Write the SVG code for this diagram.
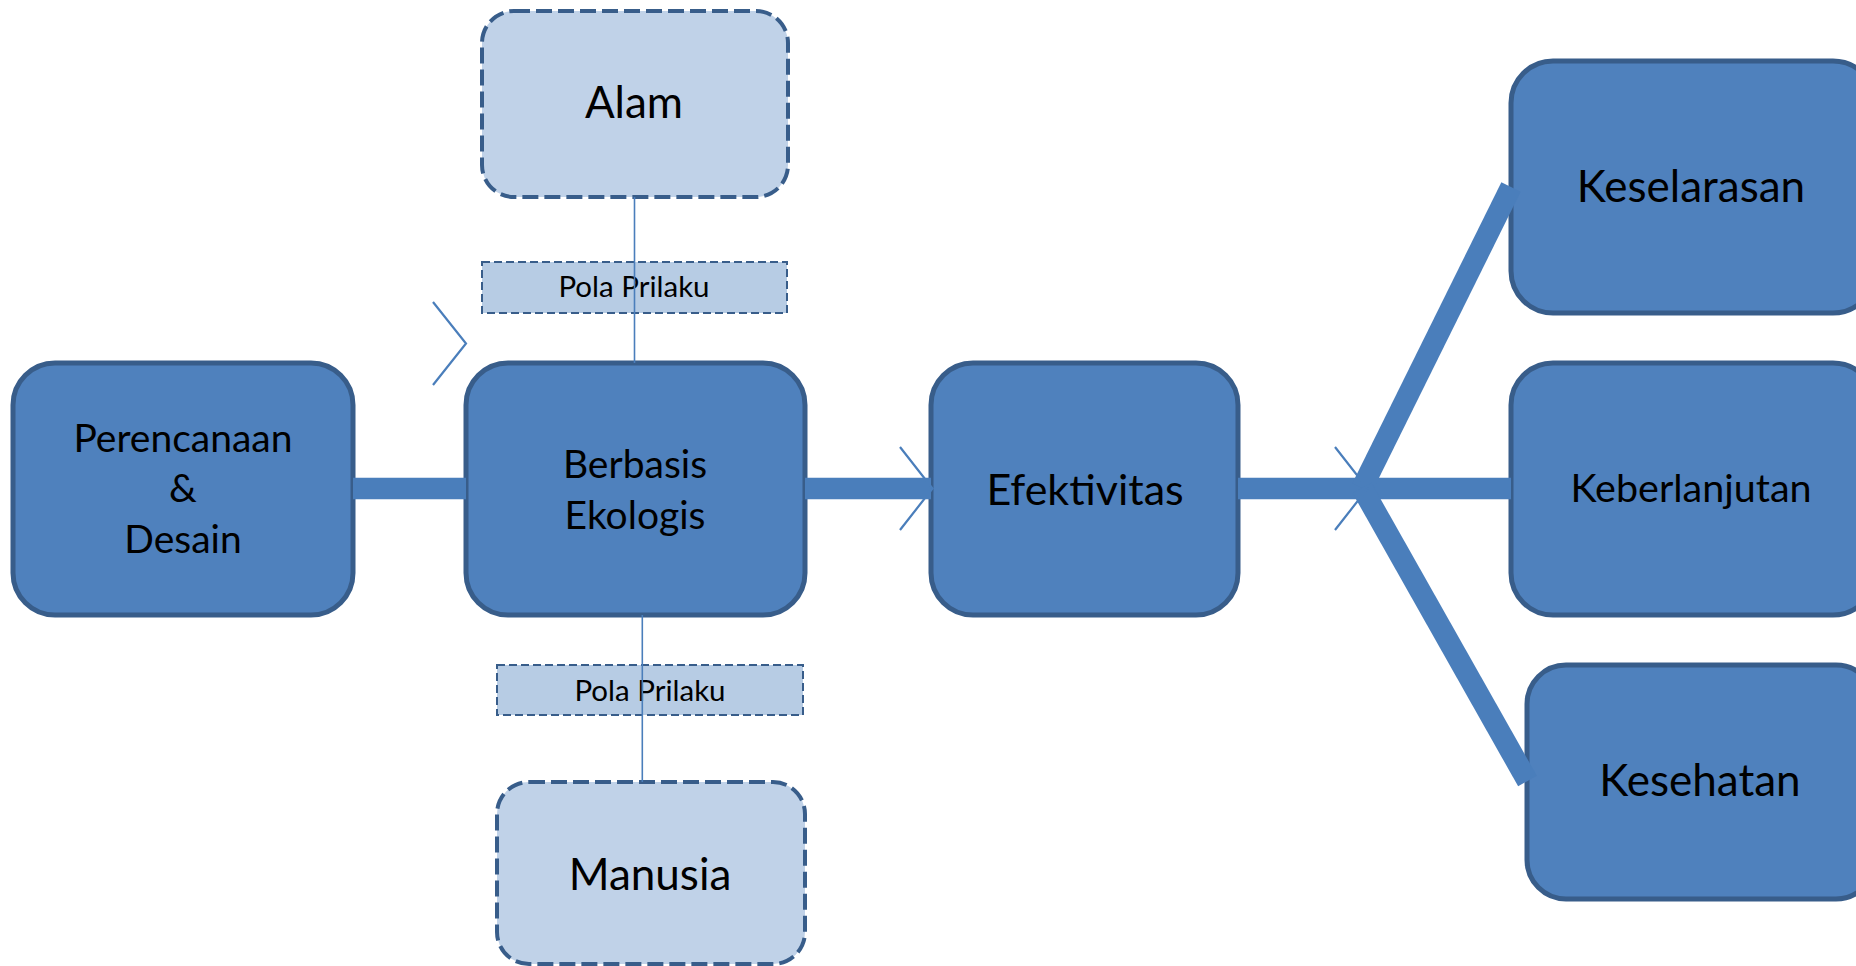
<svg xmlns="http://www.w3.org/2000/svg" width="1856" height="966" viewBox="0 0 1856 966">
<style>
.box{fill:#4F81BD;stroke:#385D8A;stroke-width:5}
.soft{fill:#C0D2E8;stroke:#385D8A;stroke-width:4;stroke-dasharray:16 6}
.lbl{fill:#B7CCE4;stroke:#385D8A;stroke-width:2;stroke-dasharray:8 4}
.t{font-family:Lato,"Open Sans",sans-serif;fill:#000;text-anchor:middle}
.bar{stroke:#4A7EBB;stroke-width:21.5;fill:none}
.thin{stroke:#4A7EBB;stroke-width:1.6;fill:none}
.chev{stroke:#4A7EBB;stroke-width:2.2;fill:none}
</style>
<rect width="1856" height="966" fill="#fff"/>
<g id="alam">
<rect class="soft" x="482" y="11" width="306" height="186" rx="32"/>
<text class="t" x="634" y="118" font-size="44">Alam</text>
</g>
<g id="pola-atas">
<rect class="lbl" x="482" y="262" width="305" height="51"/>
<text class="t" x="634" y="297" font-size="29.5">Pola Prilaku</text>
</g>
<g id="perencanaan">
<rect class="box" x="13" y="363" width="340" height="252" rx="42"/>
<text class="t" x="183" y="452" font-size="39">Perencanaan</text>
<text class="t" x="183" y="502" font-size="39">&amp;</text>
<text class="t" x="183" y="553" font-size="39">Desain</text>
</g>
<g id="berbasis">
<rect class="box" x="466" y="363" width="339" height="252" rx="42"/>
<text class="t" x="635" y="478" font-size="39">Berbasis</text>
<text class="t" x="635" y="529" font-size="39">Ekologis</text>
</g>
<g id="efektivitas">
<rect class="box" x="931" y="363" width="307" height="252" rx="42"/>
<text class="t" x="1085" y="505" font-size="43">Efektivitas</text>
</g>
<g id="keselarasan">
<rect class="box" x="1511" y="61" width="364" height="252" rx="42"/>
<text class="t" x="1691" y="202" font-size="44">Keselarasan</text>
</g>
<g id="keberlanjutan">
<rect class="box" x="1511" y="363" width="364" height="252" rx="42"/>
<text class="t" x="1691" y="502" font-size="39.5">Keberlanjutan</text>
</g>
<g id="kesehatan">
<rect class="box" x="1527" y="665" width="348" height="234" rx="39"/>
<text class="t" x="1700" y="796" font-size="44">Kesehatan</text>
</g>
<g id="pola-bawah">
<rect class="lbl" x="497" y="665" width="306" height="50"/>
<text class="t" x="650" y="701" font-size="29.5">Pola Prilaku</text>
</g>
<g id="manusia">
<rect class="soft" x="497" y="782" width="308" height="182" rx="32"/>
<text class="t" x="650" y="890" font-size="44">Manusia</text>
</g>
<g id="connectors">
<line class="bar" x1="353" y1="488.5" x2="466" y2="488.5"/>
<line class="bar" x1="805" y1="488.5" x2="931" y2="488.5"/>
<line class="bar" x1="1238" y1="488.5" x2="1511" y2="488.5"/>
<line class="bar" x1="1362" y1="488" x2="1511" y2="187"/>
<line class="bar" x1="1362" y1="488" x2="1527.5" y2="781"/>
<line class="thin" x1="634.5" y1="197" x2="634.5" y2="363"/>
<line class="thin" x1="642.3" y1="615" x2="642.3" y2="782"/>
<polyline class="chev" points="433,302 466,343.5 433,385"/>
<polyline class="chev" points="900,447 932.5,488.5 900,530"/>
<polyline class="chev" points="1335,447 1367.5,488.5 1335,530"/>
</g>
</svg>
